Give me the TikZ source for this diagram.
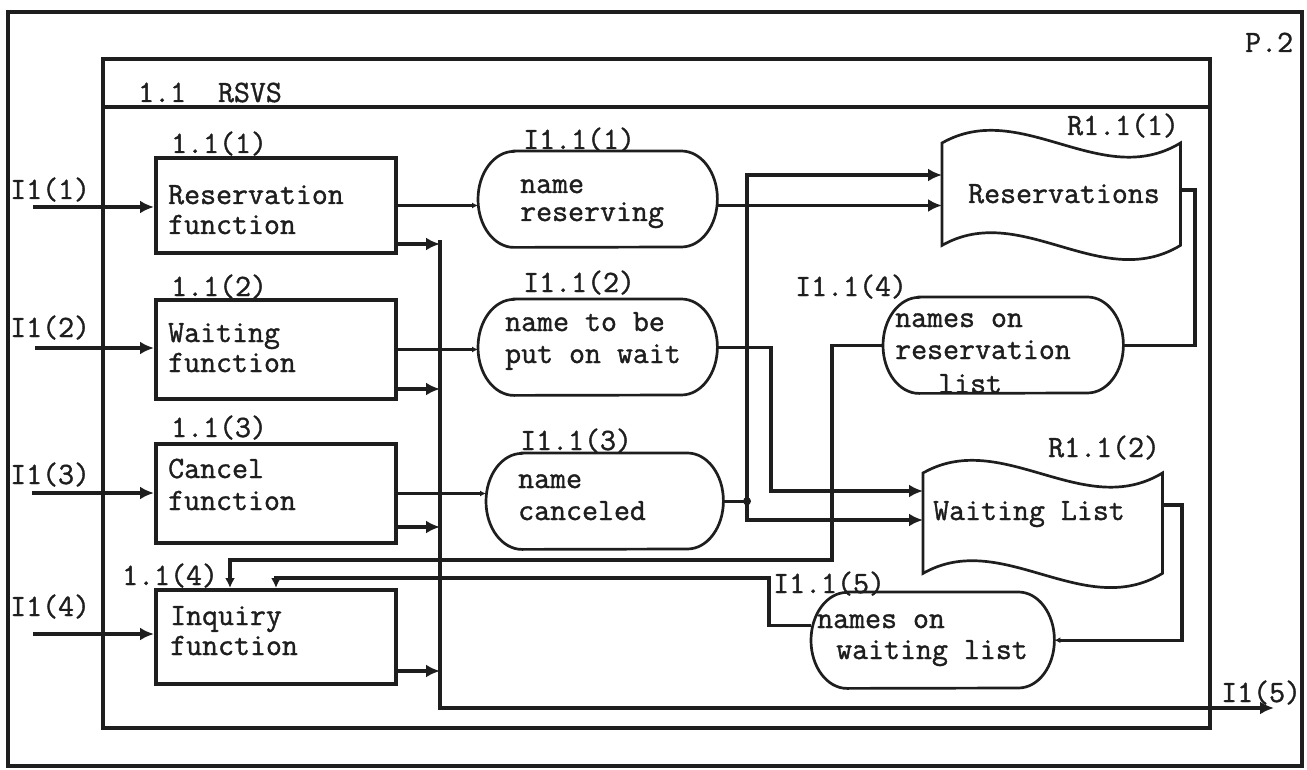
\documentclass[tikz,border=0pt]{standalone}
\usepackage{fontspec}
\newfontfamily\typer[FakeBold=1.2]{Latin Modern Mono}
\usetikzlibrary{arrows.meta}
\definecolor{ink}{HTML}{1E1E1E}
\newcommand\mystadium[1]{\draw[outline] ([xshift=36pt]#1.north west) -- ([xshift=-36pt]#1.north east) arc[start angle=90,end angle=-90,x radius=36pt,y radius=48pt] -- ([xshift=36pt]#1.south west) arc[start angle=270,end angle=90,x radius=36pt,y radius=48pt] -- cycle;}
\newcommand\mytape[1]{\draw[outline] (#1.north west) .. controls +(79,-45) and +(-79,48) .. (#1.north east) -- (#1.south east) .. controls +(-79,48) and +(79,-45) .. (#1.south west) -- cycle;}
\begin{document}
\begin{tikzpicture}[x=1pt,y=-1pt,
  every node/.style={font=\typer\fontsize{31}{31}\selectfont, text=ink},
  lbl/.style={anchor=base west, inner sep=0pt},
  procbox/.style={draw=ink, line width=4pt, anchor=north west, inner sep=0pt, minimum width=240pt},
  anchorbox/.style={anchor=north west, inner sep=0pt, draw=none},
  bigframe/.style={draw=ink, line width=3.2pt},
  conn/.style={draw=ink, line width=3.4pt},
  outline/.style={draw=ink, line width=2.7pt},
  arr/.style={conn, -{Latex[length=14pt,width=13pt]}},
  dotarr/.style={conn, -{Latex[length=10pt,width=10pt]}},
  smalltip/.style={conn, -{Latex[length=6pt,width=6pt]}},
]
\useasboundingbox (0,0) rectangle (1307,770);
% frames
\draw[bigframe] (8,12) rectangle (1302,766);
\draw[bigframe] (103,59) rectangle (1210,728);
\draw[bigframe] (103,107) -- (1210,107);
\node[lbl] (title) at (138,102) {1.1\ \ RSVS};
\node[lbl] (page) at (1245,52) {P.2};

% process boxes
\node[procbox, minimum height=95pt] (b1) at (154,156) {};
\node[procbox, minimum height=99pt] (b2) at (154,298) {};
\node[procbox, minimum height=99pt] (b3) at (154,442) {};
\node[procbox, minimum height=94pt] (b4) at (154,588) {};
\node[lbl] (t1a) at (168,204) {Reservation};
\node[lbl] (t1b) at (168,234) {function};
\node[lbl] (t2a) at (168,342) {Waiting};
\node[lbl] (t2b) at (168,372) {function};
\node[lbl] (t3a) at (168,478) {Cancel};
\node[lbl] (t3b) at (168,510) {function};
\node[lbl] (t4a) at (170,625) {Inquiry};
\node[lbl] (t4b) at (170,655) {function};
\node[lbl] (lb1) at (171,153) {1.1(1)};
\node[lbl] (lb2) at (171,296) {1.1(2)};
\node[lbl] (lb3) at (171,437) {1.1(3)};
\node[lbl] (lb4) at (122,585) {1.1(4)};

% data items (stadiums)
\node[anchorbox, minimum width=239pt, minimum height=96pt] (e1) at (478,151) {};
\node[anchorbox, minimum width=239pt, minimum height=96pt] (e2) at (478,299) {};
\node[anchorbox, minimum width=237pt, minimum height=96pt] (e3) at (486,453) {};
\node[anchorbox, minimum width=240pt, minimum height=96pt] (e4) at (883,297) {};
\node[anchorbox, minimum width=243pt, minimum height=96pt] (e5) at (811,592) {};
\mystadium{e1}\mystadium{e2}\mystadium{e3}\mystadium{e4}\mystadium{e5}
\node[lbl] (le1) at (523,149) {I1.1(1)};
\node[lbl] (le2) at (523,292) {I1.1(2)};
\node[lbl] (le3) at (520,450) {I1.1(3)};
\node[lbl] (le4) at (795,296) {I1.1(4)};
\node[lbl] (le5) at (773,593) {I1.1(5)};
\node[lbl] (e1a) at (520,193) {name};
\node[lbl] (e1b) at (520,221) {reserving};
\node[lbl] (e2a) at (505,331) {name to be};
\node[lbl] (e2b) at (505,363) {put on wait};
\node[lbl] (e3a) at (518,488) {name};
\node[lbl] (e3b) at (518,520) {canceled};
\node[lbl] (e4a) at (895,327) {names on};
\node[lbl] (e4b) at (895,359) {reservation};
\node[lbl] (e4c) at (938,393) {list};
\node[lbl] (e5a) at (817,628) {names on};
\node[lbl] (e5b) at (836,659) {waiting list};

% files (tapes)
\node[anchorbox, minimum width=238pt, minimum height=102pt] (f1) at (942,143) {};
\node[anchorbox, minimum width=239pt, minimum height=100pt] (f2) at (923,473) {};
\mytape{f1}\mytape{f2}
\node[lbl] (lf1) at (1067,135) {R1.1(1)};
\node[lbl] (lf2) at (1048,457) {R1.1(2)};
\node[lbl] (f1t) at (968,203) {Reservations};
\node[lbl] (f2t) at (933,520) {Waiting List};

% external inputs
\coordinate (in1) at (33,207);
\coordinate (in2) at (35,348);
\coordinate (in3) at (32,493);
\coordinate (in4) at (33,634);
\draw[arr] (in1) -- (in1 -| b1.west);
\draw[arr] (in2) -- (in2 -| b2.west);
\draw[arr] (in3) -- (in3 -| b3.west);
\draw[arr] (in4) -- (in4 -| b4.west);
\node[lbl] (li1) at (10,199) {I1(1)};
\node[lbl] (li2) at (10,337) {I1(2)};
\node[lbl] (li3) at (10,484) {I1(3)};
\node[lbl] (li4) at (10,616) {I1(4)};

% boxes to data items
\draw[smalltip] (b1.east) -- (b1.east -| e1.west);
\draw[smalltip] (b2.east) -- (b2.east -| e2.west);
\draw[smalltip] (b3.east) -- (b3.east -| e3.west);

% collector to output I1(5)
\coordinate (colTop) at (440,240);
\coordinate (colBot) at (440,708);
\coordinate (out5) at (1274,708);
\draw[arr] (colTop) -- (colBot) -- (out5);
\node[lbl] (li5) at (1221,702) {I1(5)};
\draw[arr] ([yshift=11pt]b1.south east) coordinate (b1o) -- (b1o -| colTop);
\draw[arr] ([yshift=12pt]b2.south east) coordinate (b2o) -- (b2o -| colTop);
\draw[arr] ([yshift=18pt]b3.south east) coordinate (b3o) -- (b3o -| colTop);
\draw[arr] ([yshift=15pt]b4.south east) coordinate (b4o) -- (b4o -| colTop);

% data items to files
\draw[arr] (e1.east |- b1.east) -- (b1.east -| f1.west);
\coordinate (j3) at (e3.east -| 747,0);
\draw[conn] (e3.east) -- (j3);
\fill[ink] (j3) circle (4pt);
\coordinate (f1in2) at (f1.west |- 0,175);
\coordinate (f2in2) at (f2.west |- 0,520);
\draw[arr] (j3) |- (f1in2);
\draw[arr] (j3) |- (f2in2);
\coordinate (e2bend) at (771,491);
\coordinate (f2in1) at (f2.west |- e2bend);
\draw[arr] (e2.east) -| (e2bend) -- (f2in1);

% files to data items
\coordinate (f1out) at (f1.east |- 0,190);
\coordinate (f1bend) at (1195,190);
\draw[conn] (f1out) -- (f1bend) |- (e4.east);
\coordinate (f2out) at (f2.east |- 0,505);
\coordinate (f2bend) at (1182,505);
\draw[smalltip] (f2out) -- (f2bend) |- (e5.east);

% data items back to inquiry
\coordinate (e4bend) at (832,560);
\draw[dotarr] (e4.west) -| (e4bend) -| ([xshift=76pt]b4.north west);
\coordinate (e5bend) at (769,578);
\draw[dotarr] ([yshift=15pt]e5.west) -| (e5bend) -| ([xshift=122pt]b4.north west);
\end{tikzpicture}
\end{document}
